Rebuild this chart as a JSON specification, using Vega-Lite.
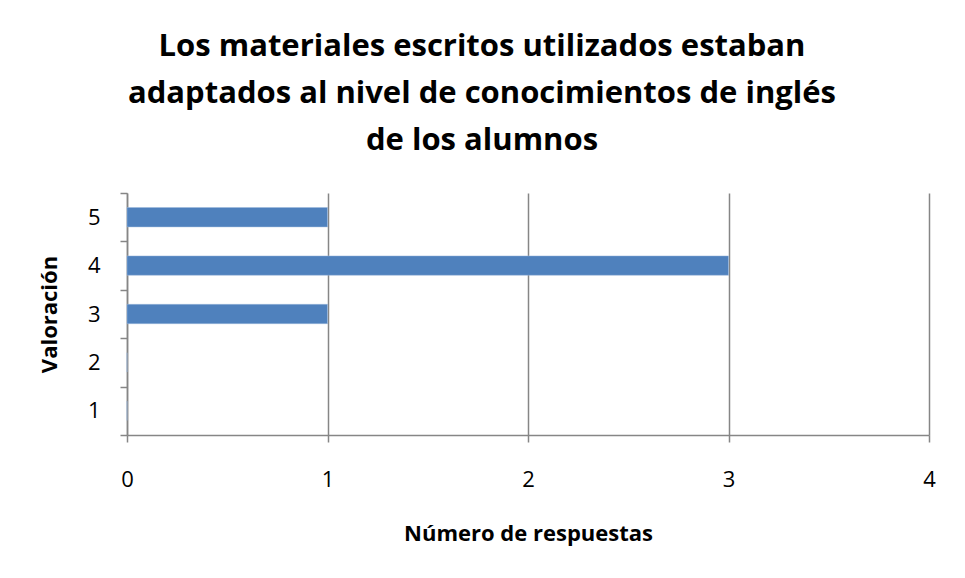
{
  "$schema": "https://vega.github.io/schema/vega-lite/v6.json",
  "width": 802,
  "height": 242,
  "autosize": {"type": "none"},
  "padding": {"left": 127, "top": 193, "right": 36, "bottom": 143},
  "background": "white",
  "title": {
    "text": ["Los materiales escritos utilizados estaban", "adaptados al nivel de conocimientos de inglés", "de los alumnos"],
    "font": "Open Sans",
    "fontSize": 31,
    "fontWeight": "bold",
    "lineHeight": 47,
    "color": "black",
    "anchor": "middle",
    "dx": -46,
    "offset": 25
  },
  "data": {
    "values": [
      {"valoracion": "1", "respuestas": 0},
      {"valoracion": "2", "respuestas": 0},
      {"valoracion": "3", "respuestas": 1},
      {"valoracion": "4", "respuestas": 3},
      {"valoracion": "5", "respuestas": 1}
    ]
  },
  "mark": {"type": "bar", "color": "#4F81BD", "stroke": "#9DB8DC", "strokeWidth": 0.5, "height": {"band": 0.4}},
  "encoding": {
    "y": {
      "field": "valoracion",
      "type": "ordinal",
      "sort": "descending",
      "scale": {"paddingInner": 0, "paddingOuter": 0},
      "axis": {
        "title": "Valoración",
        "titleFont": "Open Sans",
        "titleFontSize": 22,
        "titleFontWeight": "bold",
        "titleColor": "black",
        "titlePadding": 26,
        "labelFont": "Open Sans",
        "labelFontSize": 22,
        "labelColor": "black",
        "labelPadding": 20,
        "labelAngle": 0,
        "tickBand": "extent",
        "tickSize": 7,
        "tickColor": "#868686",
        "domainColor": "#868686",
        "domainWidth": 1.5,
        "tickWidth": 1.5,
        "grid": false
      }
    },
    "x": {
      "field": "respuestas",
      "type": "quantitative",
      "scale": {"domain": [0, 4], "nice": false},
      "axis": {
        "title": "Número de respuestas",
        "titleFont": "Open Sans",
        "titleFontSize": 22,
        "titleFontWeight": "bold",
        "titleColor": "black",
        "titlePadding": 33,
        "labelFont": "Open Sans",
        "labelFontSize": 22,
        "labelColor": "black",
        "labelPadding": 27,
        "labelFlush": false,
        "values": [0, 1, 2, 3, 4],
        "format": "d",
        "tickSize": 7,
        "tickColor": "#868686",
        "tickWidth": 1.5,
        "domainColor": "#868686",
        "domainWidth": 1.5,
        "grid": true,
        "gridColor": "#868686",
        "gridWidth": 1.5
      }
    }
  },
  "config": {"view": {"stroke": null}}
}
